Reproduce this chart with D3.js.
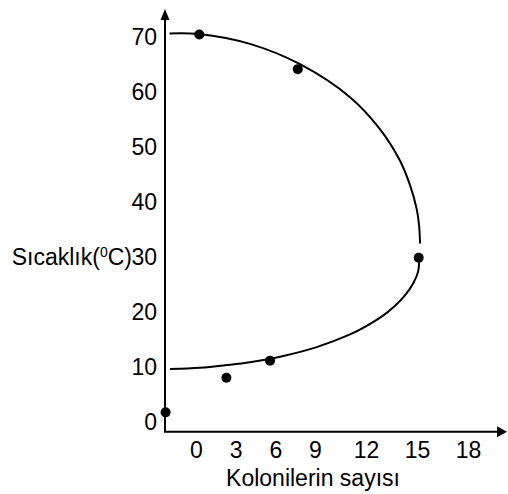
<!DOCTYPE html>
<html lang="tr">
<head>
<meta charset="UTF-8">
<title>Sıcaklık ve koloni sayısı</title>
<script src="https://d3js.org/d3.v7.min.js"></script>
<style>
  body { margin: 0; background: #fff; }
  svg text { font-family: "Liberation Sans", Arial, sans-serif; fill: #000; }
</style>
</head>
<body>
<script>
// tick labels
var xTicks = [0, 3, 6, 9, 12, 15, 18];
var yTicks = [0, 10, 20, 30, 40, 50, 60, 70];

// measured points (koloni sayısı, sıcaklık)
var pointX = [-2.3, 0.25, 2.3, 5.6, 7.7, 15.1];
var pointY = [1.7, 70.4, 8.0, 11.1, 64.1, 29.8];

// upper branch of the curve
var upperX = [-2.0, 0.2, 4.08, 7.87, 11.06, 12.82, 14.0, 14.59, 14.98, 15.12, 15.18];
var upperY = [70.6, 70.5, 68.7, 65.0, 59.0, 53.2, 47.45, 43.0, 38.7, 35.8, 32.4];

// lower branch of the curve
var lowerX = [15.14, 15.06, 14.78, 14.29, 13.71, 13.02, 11.94, 11.06, 9.1, 6.6, 4.08, 2.32, 0.3, -1.97];
var lowerY = [29.82, 27.24, 25.16, 22.95, 21.07, 19.33, 17.25, 15.87, 13.56, 11.95, 10.82, 10.29, 9.8, 9.58];

var W = 508, H = 494;
var fontSize = 23;

var svg = d3.select("body").append("svg")
    .attr("width", W)
    .attr("height", H);

// the x labels are not evenly spaced in the original, so use a polylinear scale
var x = d3.scaleLinear().domain([0, 9, 18]).range([196, 315, 468]);
var y = d3.scaleLinear().domain([0, 70]).range([421.7, 36.7]);

var axisX = 165, axisY = 431.7;

// axis lines with arrow heads
svg.append("line")
   .attr("x1", axisX).attr("y1", axisY)
   .attr("x2", axisX).attr("y2", 18)
   .attr("stroke", "#000").attr("stroke-width", 2);
svg.append("path")
   .attr("d", "M" + axisX + ",9 L" + (axisX - 4.5) + ",20 L" + (axisX + 4.5) + ",20 Z")
   .attr("fill", "#000");

svg.append("line")
   .attr("x1", axisX - 1).attr("y1", axisY)
   .attr("x2", 498).attr("y2", axisY)
   .attr("stroke", "#000").attr("stroke-width", 2);
svg.append("path")
   .attr("d", "M507," + axisY + " L497," + (axisY - 5.5) + " L497," + (axisY + 5.5) + " Z")
   .attr("fill", "#000");

// y tick labels
var gy = svg.append("g")
    .attr("transform", "translate(157,0)")
    .call(d3.axisLeft(y).tickValues(yTicks).tickSize(0).tickPadding(0));
gy.select(".domain").remove();
gy.selectAll("text")
   .attr("dy", "0.36em")
   .style("font-size", fontSize + "px")
   .style("font-family", "'Liberation Sans', Arial, sans-serif");

// x tick labels
var gx = svg.append("g")
    .attr("transform", "translate(0,458)")
    .call(d3.axisBottom(x).tickValues(xTicks).tickSize(0).tickPadding(0));
gx.select(".domain").remove();
gx.selectAll("text")
   .attr("y", 0)
   .attr("dy", 0)
   .style("font-size", fontSize + "px")
   .style("font-family", "'Liberation Sans', Arial, sans-serif");

// axis titles
svg.append("text")
   .attr("x", 313)
   .attr("y", 486)
   .attr("text-anchor", "middle")
   .style("font-size", fontSize + "px")
   .text("Kolonilerin sayısı");

var yl = svg.append("text")
   .attr("x", 132)
   .attr("y", y(30))
   .attr("dy", "0.36em")
   .attr("text-anchor", "end")
   .style("font-size", fontSize + "px");
yl.append("tspan").text("Sıcaklık(");
yl.append("tspan").attr("dy", "-8").style("font-size", "14px").text("0");
yl.append("tspan").attr("dy", "8").text("C)");

// curve
var line = d3.line()
    .x(function(d) { return x(d[0]); })
    .y(function(d) { return y(d[1]); })
    .curve(d3.curveCatmullRom.alpha(0.5));

svg.append("path")
   .datum(d3.zip(upperX, upperY))
   .attr("d", line)
   .attr("fill", "none")
   .attr("stroke", "#000")
   .attr("stroke-width", 2);

svg.append("path")
   .datum(d3.zip(lowerX, lowerY))
   .attr("d", line)
   .attr("fill", "none")
   .attr("stroke", "#000")
   .attr("stroke-width", 2);

// points
svg.selectAll("circle.pt")
   .data(d3.zip(pointX, pointY))
   .enter().append("circle")
   .attr("class", "pt")
   .attr("cx", function(d) { return x(d[0]); })
   .attr("cy", function(d) { return y(d[1]); })
   .attr("r", 5)
   .attr("fill", "#000");
</script>
</body>
</html>
